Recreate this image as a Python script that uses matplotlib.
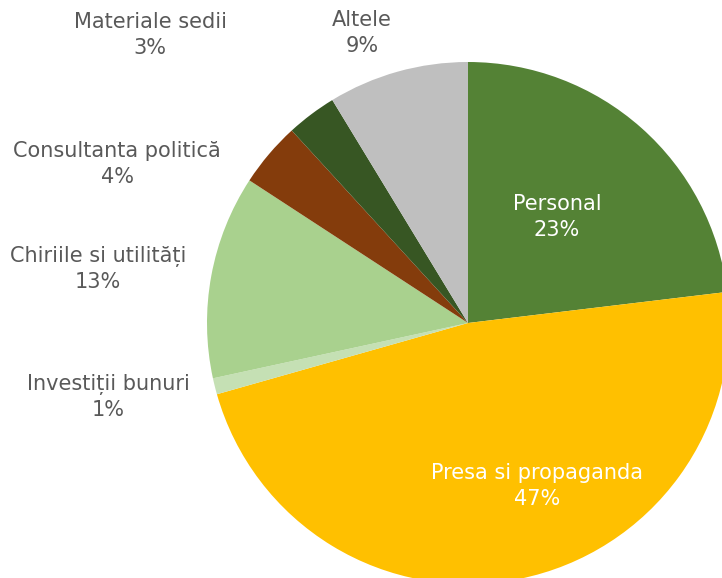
import matplotlib.pyplot as plt

# Slice data, clockwise from 12 o'clock
categories = ['Personal', 'Presa si propaganda', 'Investiții bunuri', 'Chiriile si utilități',
              'Consultanta politică', 'Materiale sedii', 'Altele']
values = [23.1, 47.5, 1.0, 12.6, 4.0, 3.1, 8.7]
pct_labels = ['23%', '47%', '1%', '13%', '4%', '3%', '9%']
colors = ['#548235', '#FFC000', '#C5E0B4', '#A9D18E', '#843C0C', '#375623', '#BFBFBF']

# label centres in pixel coordinates of the 722x578 image
label_px = [(557, 217), (537, 486), (108, 397), (98, 269), (117, 164), (150, 35), (362, 33)]
inside = [True, True, False, False, False, False, False]

cx, cy, r = 468, 323, 261
W, H = 722, 578

fig = plt.figure(figsize=(W / 100, H / 100), dpi=100)
ax = fig.add_axes([(cx - r) / W, (H - cy - r) / H, 2 * r / W, 2 * r / H])
ax.pie(values, colors=colors, startangle=90, counterclock=False, radius=1,
       wedgeprops=dict(linewidth=0))
ax.set_xlim(-1, 1)
ax.set_ylim(-1, 1)
ax.set_aspect('equal')
ax.axis('off')

for name, pct, (px, py), ins in zip(categories, pct_labels, label_px, inside):
    ax.text((px - cx) / r, (cy - py) / r, name + '\n' + pct, ha='center', va='center',
            fontsize=15, color='white' if ins else '#595959', linespacing=1.32)

fig.savefig('out.png', dpi=100)
